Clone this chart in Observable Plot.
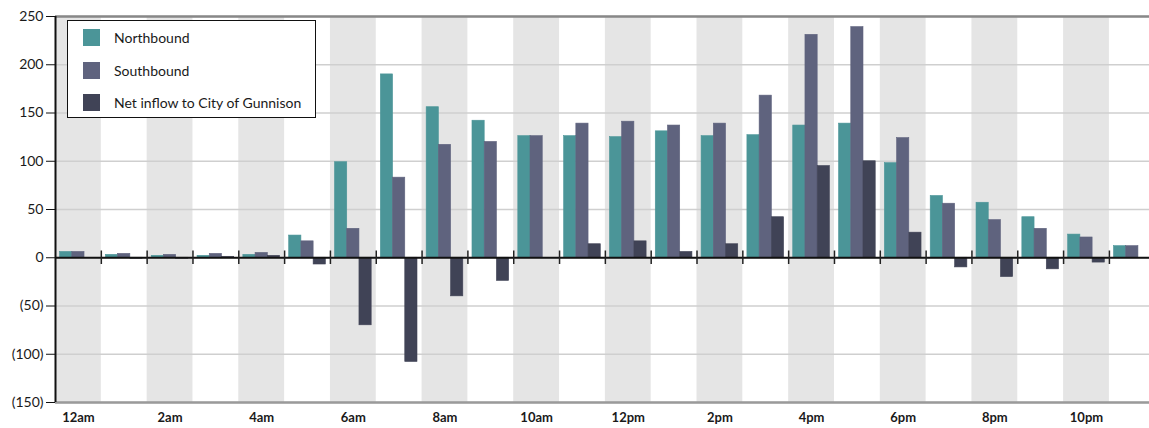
<!DOCTYPE html>
<html>
<head>
<meta charset="utf-8">
<script src="https://cdn.jsdelivr.net/npm/d3@7"></script>
<script src="https://cdn.jsdelivr.net/npm/@observablehq/plot@0.6"></script>
<style>
  body { margin: 0; background: #fff; font-family: Lato, "Open Sans", sans-serif; }
  #chart { position: relative; width: 1149px; height: 428px; }
  #legend {
    position: absolute; left: 67px; top: 20px; width: 247px; height: 96px;
    border: 1.5px solid #111; background: #fff; box-sizing: content-box;
  }
  #legend .row { position: absolute; left: 15px; height: 17px; display: flex; align-items: center; }
  #legend .swatch { width: 17px; height: 17px; margin-right: 14px; }
  #legend .label { font-size: 14px; color: #1a1a1a; white-space: nowrap; }
</style>
</head>
<body>
<div id="chart"></div>
<script>
// Hourly traffic counts by direction, plus net inflow into the city
const hours = ["12am","1am","2am","3am","4am","5am","6am","7am","8am","9am","10am","11am",
               "12pm","1pm","2pm","3pm","4pm","5pm","6pm","7pm","8pm","9pm","10pm","11pm"];
const northbound = [6, 3, 2, 2, 3, 23, 99, 190, 156, 142, 126, 126,
                    125, 131, 126, 127, 137, 139, 98, 64, 57, 42, 24, 12];
const southbound = [6, 4, 3, 4, 5, 17, 30, 83, 117, 120, 126, 139,
                    141, 137, 139, 168, 231, 239, 124, 56, 39, 30, 21, 12];
const netInflow  = [0, -1, -1, 1, 2, -7, -70, -108, -40, -24, 0, 14,
                    17, 6, 14, 42, 95, 100, 26, -10, -20, -12, -5, 0];

const seriesNames  = ["Northbound", "Southbound", "Net inflow to City of Gunnison"];
const seriesColors = ["#4b9598", "#5f637e", "#404356"];
const yTicks = [-150, -100, -50, 0, 50, 100, 150, 200, 250];

// One row per hour × series; each series takes a third of the hour slot
// after a small inner padding.
const seriesValues = [northbound, southbound, netInflow];
const pad = 0.1, barW = (1 - 2 * pad) / 3;
const rows = [];
hours.forEach((h, i) => {
  seriesValues.forEach((vals, k) => {
    const x1 = i + pad + k * barW;
    rows.push({hour: i, series: seriesNames[k], value: vals[i], x1, x2: x1 + barW});
  });
});

const hourIdx = d3.range(hours.length);
const shaded = hourIdx.filter(i => i % 2 === 0);
const boundaries = d3.range(1, hours.length);

const fmt = d => d < 0 ? `(${-d})` : `${d}`;

const chart = Plot.plot({
  width: 1149,
  height: 428,
  marginLeft: 55,
  marginRight: 0,
  marginTop: 16,
  marginBottom: 26,
  style: {fontFamily: "Lato, 'Open Sans', sans-serif", fontSize: "14px", color: "#1a1a1a", background: "#fff"},
  x: {domain: [0, 23.875], axis: null},
  y: {domain: [-150, 250], axis: null},
  color: {domain: seriesNames, range: seriesColors},
  marks: [
    // alternating hour shading
    Plot.rectY(shaded, {x1: d => d, x2: d => d + 1, y1: -150, y2: 250, fill: "#e5e5e5"}),
    Plot.gridY(yTicks, {stroke: "#cfcfcf", strokeOpacity: 1, strokeWidth: 1.5}),
    Plot.ruleY([250], {stroke: "#888", strokeWidth: 2.5}),
    Plot.ruleY([-150], {stroke: "#9a9a9a", strokeWidth: 2.5}),
    Plot.rectY(rows, {x1: "x1", x2: "x2", y: "value", fill: "series", stroke: "series", strokeWidth: 0.6}),
    Plot.ruleY([0], {stroke: "#111", strokeWidth: 2}),
    Plot.ruleX(boundaries, {y1: -7, y2: 7, stroke: "#222", strokeWidth: 1.5}),
    Plot.axisY({ticks: yTicks, tickFormat: fmt, tickSize: 9, tickPadding: 3, fontSize: 14,
                stroke: "#111", label: null}),
    Plot.ruleX([0], {stroke: "#111", strokeWidth: 2}),
    Plot.axisX({ticks: shaded.map(d => d + 0.5), tickFormat: d => hours[d - 0.5],
                tickSize: 0, tickPadding: 10, fontSize: 13, fontWeight: "bold", label: null})
  ]
});
document.getElementById("chart").appendChild(chart);

// Legend box drawn over the upper-left corner of the plot
const legend = document.createElement("div");
legend.id = "legend";
seriesNames.forEach((name, k) => {
  const row = document.createElement("div");
  row.className = "row";
  row.style.top = `${8 + k * 32.5}px`;
  const sw = document.createElement("div");
  sw.className = "swatch";
  sw.style.background = seriesColors[k];
  const lb = document.createElement("span");
  lb.className = "label";
  lb.textContent = name;
  row.appendChild(sw);
  row.appendChild(lb);
  legend.appendChild(row);
});
document.getElementById("chart").appendChild(legend);
</script>
</body>
</html>
